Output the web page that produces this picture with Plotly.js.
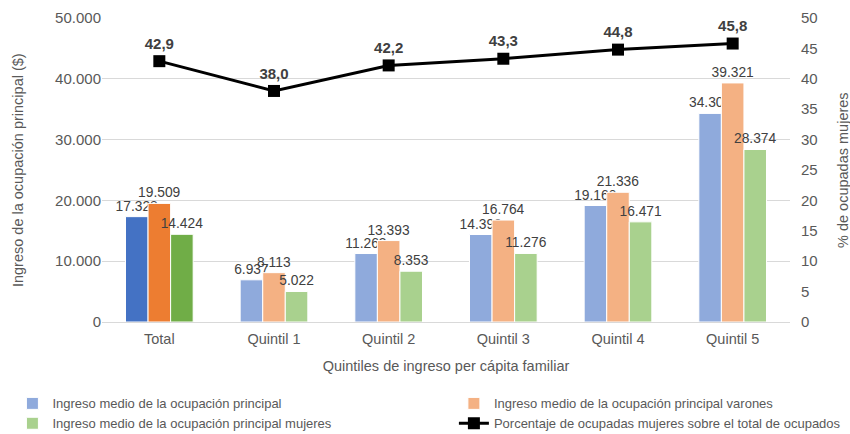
<!DOCTYPE html>
<html><head><meta charset="utf-8">
<script src="https://cdn.plot.ly/plotly-3.0.1.min.js"></script>
<style>html,body{margin:0;padding:0;background:#fff}#chart{width:850px;height:434px}</style>
</head><body><div id="chart"></div>
<script>
const categories = ["Total","Quintil 1","Quintil 2","Quintil 3","Quintil 4","Quintil 5"];
const ingresoMedio = [17328, 6937, 11263, 14390, 19160, 34307];
const ingresoVarones = [19509, 8113, 13393, 16764, 21336, 39321];
const ingresoMujeres = [14424, 5022, 8353, 11276, 16471, 28374];
const pctMujeres = [42.9, 38.0, 42.2, 43.3, 44.8, 45.8];
const seriesNames = ["Ingreso medio de la ocupación principal","Ingreso medio de la ocupación principal varones","Ingreso medio de la ocupación principal mujeres","Porcentaje de ocupadas mujeres sobre el total de ocupados"];
const yTitleLeft = "Ingreso de la ocupación principal ($)";
const yTitleRight = "% de ocupadas mujeres";
const xTitle = "Quintiles de ingreso per cápita familiar";

const darkColors = ["#4472C4","#ED7D31","#70AD47"];
const lightColors = ["#8FAADC","#F4B183","#A9D18E"];
const legendOf = ["legend","legend2","legend","legend2"];
const FAM = "Liberation Sans, Arial, sans-serif";
const txtFont = {family:FAM, size:13.8, color:"#404040"};

const barSeries = [ingresoMedio, ingresoVarones, ingresoMujeres];
const traces = [];
barSeries.forEach((vals, i) => {
  const common = {type:"bar", offsetgroup:"g"+i, texttemplate:"%{y:,}", textposition:"outside",
    cliponaxis:false, constraintext:"none", textfont:txtFont, hoverinfo:"skip"};
  traces.push(Object.assign({}, common, {x:categories.slice(1), y:vals.slice(1), name:seriesNames[i],
    legend:legendOf[i], marker:{color:lightColors[i], line:{color:"#ffffff", width:1}}}));
  traces.push(Object.assign({}, common, {x:categories.slice(0,1), y:vals.slice(0,1), name:seriesNames[i],
    showlegend:false, marker:{color:darkColors[i], line:{color:"#ffffff", width:1}}}));
});
traces.push({type:"scatter", mode:"lines+markers+text", x:categories, y:pctMujeres, yaxis:"y2",
  name:seriesNames[3], legend:legendOf[3], line:{color:"#000000", width:3},
  marker:{symbol:"square", size:12, color:"#000000"},
  texttemplate:"%{y:.1f}", textposition:"top center", cliponaxis:false,
  textfont:{family:FAM, size:15, color:"#404040", weight:"bold"}});

const axFont = {family:FAM, size:14.5, color:"#595959"};
const tickFont = {family:FAM, size:15, color:"#595959"};
const legFont = {family:FAM, size:13, color:"#595959"};
const legCommon = {orientation:"v", xref:"container", yref:"container", xanchor:"left", yanchor:"top",
  y:0.105, font:legFont, tracegroupgap:0, itemwidth:30, traceorder:"normal", bgcolor:"rgba(0,0,0,0)"};
const layout = {
  width:850, height:434, separators:",.",
  margin:{l:102, r:60, t:18, b:112, autoexpand:false},
  paper_bgcolor:"#ffffff", plot_bgcolor:"#ffffff",
  font:axFont,
  barmode:"group", bargap:0.41, bargroupgap:0,
  showlegend:true,
  legend:Object.assign({}, legCommon, {x:0.0146}),
  legend2:Object.assign({}, legCommon, {x:0.534}),
  xaxis:{type:"category", categoryorder:"array", categoryarray:categories, tickfont:axFont,
    showline:true, linecolor:"#D9D9D9", ticks:"", tickangle:0, ticklabelstandoff:4,
    title:{text:xTitle, font:axFont, standoff:14}},
  yaxis:{range:[0,50000], dtick:10000, tickformat:",d", tickfont:tickFont, gridcolor:"#D9D9D9",
    zeroline:false, showline:false, ticks:""},
  yaxis2:{overlaying:"y", side:"right", range:[0,50], dtick:5, tickfont:tickFont, showgrid:false,
    zeroline:false, showline:false, ticks:"", ticklabelstandoff:10},
  annotations:[
    {text:yTitleLeft, xref:"paper", yref:"paper", x:-0.122, y:0.5, xanchor:"center", yanchor:"middle",
     textangle:-90, showarrow:false, font:axFont},
    {text:yTitleRight, xref:"paper", yref:"paper", x:1.077, y:0.5, xanchor:"center", yanchor:"middle",
     textangle:-90, showarrow:false, font:axFont}
  ]
};
Plotly.newPlot("chart", traces, layout, {displayModeBar:false, staticPlot:true});
</script></body></html>
